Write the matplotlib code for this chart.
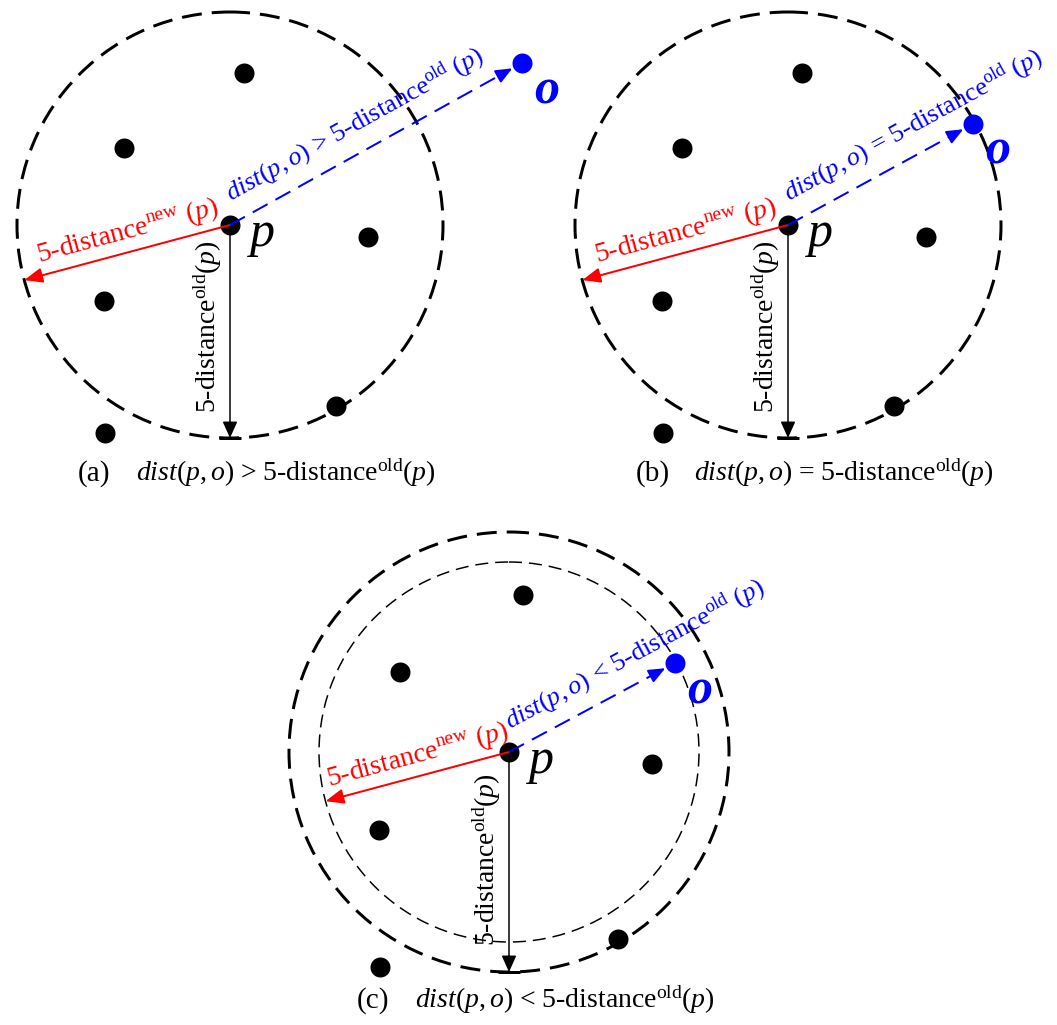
import matplotlib
matplotlib.use("Agg")
import matplotlib.pyplot as plt
import numpy as np
from matplotlib.patches import Circle

plt.rcParams["font.family"] = "Liberation Serif"
plt.rcParams["mathtext.fontset"] = "custom"
plt.rcParams["mathtext.rm"] = "Liberation Serif"
plt.rcParams["mathtext.it"] = "Liberation Serif:italic"
plt.rcParams["mathtext.bf"] = "Liberation Serif:bold"
plt.rcParams["lines.scale_dashes"] = False

# neighbours of p (offsets from p, pixel units, y grows downwards)
neighbor_dx = [14, -106, 138, -126, 106, -125]
neighbor_dy = [-152, -77, 12, 76, 181, 208]

# one entry per panel
panel_labels = ["(a)", "(b)", "(c)"]
relations = [">", "=", "<"]
o_dx = [292, 185, 166]
o_dy = [-162, -101, -89]
radius_old = [213, 213, 220]
radius_new = [213, 213, 190]

# layout
p_x = [230, 788, 509]
p_y = [225, 225, 752]
PT = 0.72  # points per pixel at dpi 100
RED = "#ff0000"
BLUE = "#0000ff"
FS = 20


def head(ax, tip, direction, color, lw, hl=1.0, hw=0.42):
    start = (tip[0] - direction[0] * 16, tip[1] - direction[1] * 16)
    ax.annotate("", xy=tip, xytext=start,
                arrowprops=dict(arrowstyle="-|>,head_length=%g,head_width=%g" % (hl, hw),
                                color=color, lw=lw, shrinkA=0, shrinkB=0,
                                mutation_scale=10), zorder=5)


def draw_panel(ax, i):
    px, py = p_x[i], p_y[i]
    s = radius_old[i] / 213.0
    r_old, r_new = radius_old[i], radius_new[i]

    # circles
    ax.add_patch(Circle((px, py), r_old, fill=False, ec="black", lw=3 * PT,
                        ls=(0, (20 * PT, 10 * PT)), zorder=1))
    if r_new != r_old:
        ax.add_patch(Circle((px, py), r_new, fill=False, ec="black", lw=1.5 * PT,
                            ls=(0, (13 * PT, 7 * PT)), zorder=1))

    # points
    nx = px + np.array(neighbor_dx) * s
    ny = py + np.array(neighbor_dy) * s
    ax.scatter(nx, ny, s=(20 * PT) ** 2, color="black", lw=0, zorder=3)
    ax.scatter([px], [py], s=(20 * PT) ** 2, color="black", lw=0, zorder=3)
    ox, oy = px + o_dx[i], py + o_dy[i]
    ax.scatter([ox], [oy], s=(20 * PT) ** 2, color=BLUE, lw=0, zorder=3)

    # vertical old-distance arrow with end bar
    ax.plot([px, px], [py, py + r_old - 12], color="black", lw=1.5 * PT, zorder=4)
    head(ax, (px, py + r_old), (0, 1), "black", 1.5 * PT, hl=1.0, hw=0.45)
    ax.plot([px - 11, px + 11], [py + r_old, py + r_old], color="black",
            lw=3 * PT, solid_capstyle="butt", zorder=4)
    ax.text(px - 14, py + 188 * s, "5-distance$^{\\rm old}$$(p)$", fontsize=FS,
            rotation=90, rotation_mode="anchor", ha="left", va="baseline", zorder=6)

    # red new-distance arrow
    ang = np.radians(15)
    d_red = (-np.cos(ang), np.sin(ang))
    tip = (px + d_red[0] * r_new, py + d_red[1] * r_new)
    ax.plot([px, tip[0] - d_red[0] * 12], [py, tip[1] - d_red[1] * 12],
            color=RED, lw=2 * PT, zorder=4)
    head(ax, tip, d_red, RED, 2 * PT, hl=1.1, hw=0.45)
    mx, my = (px + tip[0]) / 2, (py + tip[1]) / 2
    ax.text(mx + 2, my - 15, "5-distance$^{\\rm new}$ $(p)$", color=RED, fontsize=FS,
            rotation=15, rotation_mode="anchor", ha="center", va="baseline", zorder=6)

    # blue dashed arrow p -> o
    L = np.hypot(o_dx[i], o_dy[i])
    d_blue = (o_dx[i] / L, o_dy[i] / L)
    btip = (ox - d_blue[0] * 11, oy - d_blue[1] * 11)
    ax.plot([px, btip[0] - d_blue[0] * 12], [py, btip[1] - d_blue[1] * 12],
            color=BLUE, lw=2 * PT, ls=(0, (17 * PT, 9 * PT)), zorder=4)
    head(ax, btip, d_blue, BLUE, 2 * PT, hl=1.0, hw=0.42)
    rot = np.degrees(np.arctan2(-o_dy[i], o_dx[i]))
    ax.text(px + 1, py - 23,
            "$\\mathit{dist}(p,o)$ %s 5-distance$^{\\rm old}$ $(p)$" % relations[i],
            color=BLUE, fontsize=FS - 1, rotation=rot, rotation_mode="anchor",
            ha="left", va="baseline", zorder=6)

    # point labels
    ax.text(px + 20, py + 21, "p", fontsize=36, fontstyle="italic",
            ha="left", va="baseline", zorder=6)
    ax.text(ox + 12, oy + 40, "o", fontsize=36, fontstyle="italic",
            fontweight="bold", color=BLUE, ha="left", va="baseline", zorder=6)

    # caption
    ax.text(px - 152, py + 256, panel_labels[i], fontsize=FS + 1,
            ha="left", va="baseline")
    ax.text(px - 94, py + 256,
            "$\\mathit{dist}(p,o)$ %s 5-distance$^{\\rm old}(p)$" % relations[i],
            fontsize=FS, ha="left", va="baseline")


fig = plt.figure(figsize=(10.57, 10.25), dpi=100)
ax = fig.add_axes([0, 0, 1, 1])
ax.set_xlim(0, 1057)
ax.set_ylim(1025, 0)
ax.axis("off")

for i in range(3):
    draw_panel(ax, i)

fig.savefig("out.png", dpi=100)
